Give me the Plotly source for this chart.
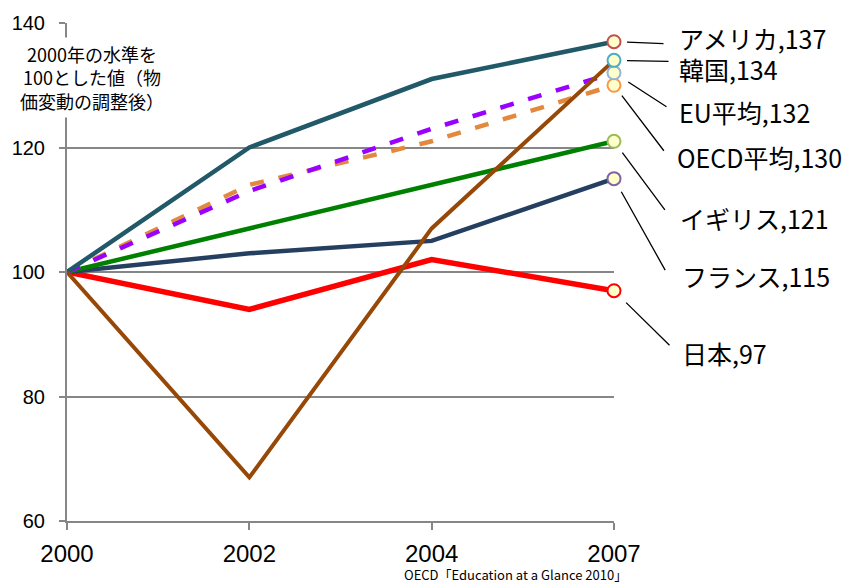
import plotly.graph_objects as go

# Survey years (category axis)
years = ["2000", "2002", "2004", "2007"]

# Index values, 2000 = 100 (price-adjusted)
japan = [100, 94, 102, 97]
france = [100, 103, 105, 115]
uk = [100, 107, 114, 121]
oecd_avg = [100, 114, 121, 130]
eu_avg = [100, 113, 123, 132]
usa = [100, 120, 131, 137]
korea = [100, 67, 107, 134]

names = ["日本", "フランス", "イギリス", "OECD平均", "EU平均", "アメリカ", "韓国"]
values = [japan, france, uk, oecd_avg, eu_avg, usa, korea]

# Line styles per series
line_colors = ["#FF0000", "#243F60", "#008000", "#E3893D", "#9900FF", "#215968", "#974706"]
line_widths = [5.5, 4.5, 4.5, 4.5, 4.5, 4.5, 4]
line_dashes = ["solid", "solid", "solid", "14px,15px", "14px,15px", "solid", "solid"]
marker_edges = ["#FF0000", "#8064A2", "#9BBB59", "#F79646", "#95B3D7", "#C0504D", "#4BACC6"]

W, H = 843, 584
ML, MR, MT, MB = 63, 229, 18, 63
PW, PH = W - ML - MR, H - MT - MB


def px_to_paper(px, py):
    return (px - ML) / PW, (H - MB - py) / PH


fig = go.Figure()

for name, vals, col, lw, dash in zip(names, values, line_colors, line_widths, line_dashes):
    fig.add_trace(go.Scatter(
        x=years, y=vals, mode="lines", name=name,
        line=dict(color=col, width=lw, dash=dash),
        cliponaxis=False, showlegend=False, hoverinfo="skip",
    ))

# End-point circles for 2007
for name, vals, edge in zip(names, values, marker_edges):
    fig.add_trace(go.Scatter(
        x=[years[-1]], y=[vals[-1]], mode="markers",
        marker=dict(size=13, color="#FFFFCC", line=dict(color=edge, width=2)),
        cliponaxis=False, showlegend=False, hoverinfo="skip",
    ))

annotations = []

# Leader lines from each end point towards its label (pixel offsets + standoff)
leader = {
    "アメリカ": (51, 2, 13),
    "韓国": (56, 1, 13),
    "EU平均": (54, 35, 17),
    "OECD平均": (51, 67, 13),
    "イギリス": (52, 70, 14),
    "フランス": (52, 93, 15),
    "日本": (57, 56, 17),
}
# Label anchor (left x, middle y) in pixels
label_pos = {
    "アメリカ": (678, 33),
    "韓国": (678, 64),
    "EU平均": (678, 108),
    "OECD平均": (676, 153),
    "イギリス": (679, 215),
    "フランス": (681, 274),
    "日本": (681, 351),
}

last_idx = len(years) - 1
for name, vals in zip(names, values):
    ax, ay, so = leader[name]
    annotations.append(dict(
        x=last_idx, y=vals[-1], xref="x", yref="y", text="",
        showarrow=True, arrowhead=0, arrowwidth=1.3, arrowcolor="#000000",
        ax=ax, ay=ay, standoff=so,
    ))
    lx, ly = px_to_paper(*label_pos[name])
    annotations.append(dict(
        x=lx, y=ly, xref="paper", yref="paper", xanchor="left", yanchor="middle",
        text=f"{name},{vals[-1]}", showarrow=False, borderpad=0,
        font=dict(family="Noto Sans CJK JP", size=25, color="#000000"),
    ))

# Axis title box
tx, ty = px_to_paper(88, 73)
annotations.append(dict(
    x=tx, y=ty, xref="paper", yref="paper", xanchor="center", yanchor="middle",
    text="2000年の水準を<br>100とした値（物<br>価変動の調整後）", align="center",
    showarrow=False, bgcolor="#FFFFFF", borderpad=3,
    font=dict(family="Noto Sans CJK JP", size=18, color="#000000"),
))

# Source note
sx, sy = px_to_paper(515, 575)
annotations.append(dict(
    x=sx, y=sy, xref="paper", yref="paper", xanchor="center", yanchor="middle",
    text="OECD「Education at a Glance 2010」", showarrow=False,
    font=dict(family="Noto Sans CJK JP", size=13, color="#000000"),
))

fig.update_layout(
    width=W, height=H,
    margin=dict(l=ML, r=MR, t=MT, b=MB),
    paper_bgcolor="#FFFFFF", plot_bgcolor="#FFFFFF",
    annotations=annotations,
    xaxis=dict(
        type="category", categoryorder="array", categoryarray=years,
        range=[0, 3], showgrid=False, zeroline=False,
        showline=True, linecolor="#868686", linewidth=2,
        ticks="outside", ticklen=7, tickwidth=2, tickcolor="#868686",
        tickfont=dict(family="Liberation Sans", size=24, color="#000000"),
        ticklabelstandoff=3,
    ),
    yaxis=dict(
        range=[60, 140], dtick=20, tick0=60,
        showgrid=True, gridcolor="#868686", gridwidth=2, zeroline=False,
        showline=True, linecolor="#868686", linewidth=2,
        ticks="outside", ticklen=6, tickwidth=2, tickcolor="#868686",
        tickfont=dict(family="Liberation Sans", size=20, color="#000000"),
        ticklabelstandoff=10,
    ),
)

fig.write_html("out.html")
